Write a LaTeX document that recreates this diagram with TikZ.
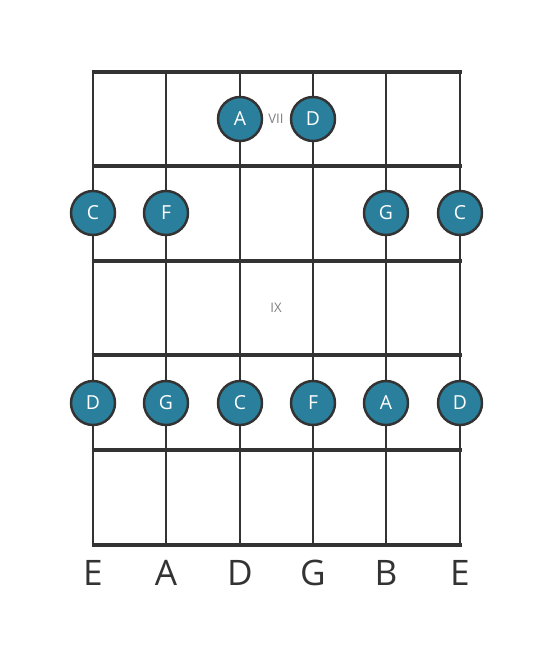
\documentclass[tikz,border=0pt]{standalone}
\usepackage{fontspec}
\setmainfont{Open Sans}
\definecolor{dotfill}{HTML}{2A7F9C}
\definecolor{wire}{HTML}{333333}
\begin{document}
\begin{tikzpicture}[x=0.02cm,y=-0.02cm,
	note/.style={circle,draw=wire,line width=1.4pt,fill=dotfill,minimum size=0.88cm,inner sep=0pt,text=white,font=\fontsize{11}{11}\selectfont},
	fretnum/.style={text=gray,font=\fontsize{7.5}{8}\selectfont}]
	\useasboundingbox (0,0) rectangle (553,656);
	% strings
	\foreach \s/\x in {1/93,2/166,3/240,4/313,5/386,6/460}
		\draw[wire,line width=1.6pt] (\x,72)--(\x,545);
	% frets
	\foreach \y in {72,166,261,355,450,545}
		\draw[wire,line width=2.6pt] (91.5,\y)--(461.5,\y);
	% string names
	\foreach \x/\n in {93/E,166/A,240/D,313/G,386/B,460/E}
		\node[text=wire,font=\fontsize{20}{20}\selectfont] at (\x,573) {\n};
	% position markers
	\node[fretnum] (vii) at (276,119) {VII};
	\node[fretnum] (ix) at (276,308) {IX};
	% notes
	\node[note] (a7) at (240,119) {A};
	\node[note] (d7) at (313,119) {D};
	\foreach \x/\n [count=\i] in {93/C,166/F,386/G,460/C}
		\node[note] (r2\i) at (\x,213) {\n};
	\foreach \x/\n [count=\i] in {93/D,166/G,240/C,313/F,386/A,460/D}
		\node[note] (r4\i) at (\x,403) {\n};
\end{tikzpicture}
\end{document}
